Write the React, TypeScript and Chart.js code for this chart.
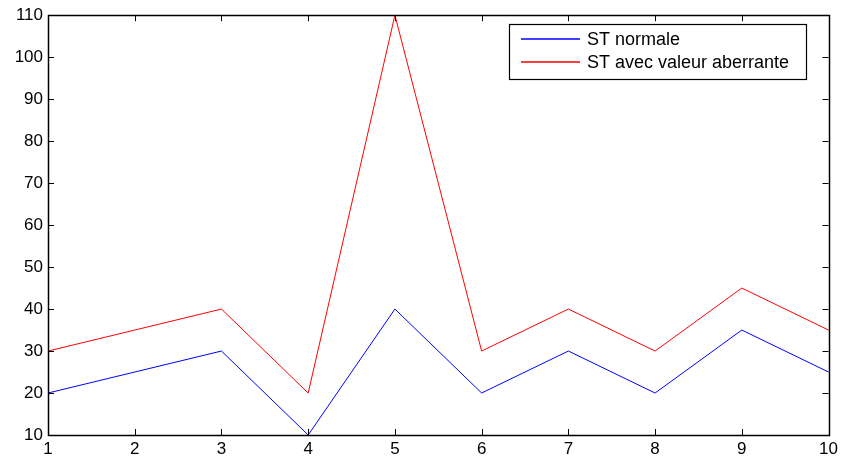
import React, { useEffect, useRef } from "react";
import { Chart, registerables } from "chart.js";

Chart.register(...registerables);

const categories = ["1", "2", "3", "4", "5", "6", "7", "8", "9", "10"];
const stNormale = [20, 25, 30, 10, 40, 20, 30, 20, 35, 25];
const stAberrante = [30, 35, 40, 20, 110, 30, 40, 30, 45, 35];
const yTicks = [10, 20, 30, 40, 50, 60, 70, 80, 90, 100, 110];
const seriesNames = ["ST normale", "ST avec valeur aberrante"];

const FONT = "'Liberation Sans', Arial, sans-serif";

const boxPlugin = {
  id: "matlabBox",
  afterDraw(chart: any) {
    const { ctx, chartArea } = chart;
    const { left, right, top, bottom } = chartArea;
    const xs = chart.scales.x;
    const ys = chart.scales.y;
    ctx.save();
    ctx.strokeStyle = "#000";
    ctx.lineWidth = 1;
    const L = 6;
    ctx.beginPath();
    for (let i = 0; i < categories.length; i++) {
      const px = Math.round(xs.getPixelForValue(i)) + 0.5;
      ctx.moveTo(px, bottom);
      ctx.lineTo(px, bottom - L);
      ctx.moveTo(px, top);
      ctx.lineTo(px, top + L);
    }
    for (const v of yTicks) {
      const py = Math.round(ys.getPixelForValue(v)) + 0.5;
      ctx.moveTo(left, py);
      ctx.lineTo(left + L, py);
      ctx.moveTo(right, py);
      ctx.lineTo(right - L, py);
    }
    ctx.stroke();
    ctx.lineWidth = 1.5;
    ctx.strokeRect(Math.round(left) + 0.5, Math.round(top) + 0.5, Math.round(right - left), Math.round(bottom - top));

    // legend
    const lx = 509, ly = 24, lw = 297, lh = 55;
    ctx.fillStyle = "#fff";
    ctx.fillRect(lx, ly, lw, lh);
    ctx.strokeStyle = "#000";
    ctx.lineWidth = 1.2;
    ctx.strokeRect(lx + 0.5, ly + 0.5, lw, lh);
    const colors = ["#0000ff", "#ff0000"];
    const rows = [39, 62];
    ctx.font = `18px ${FONT}`;
    ctx.textBaseline = "middle";
    ctx.textAlign = "left";
    for (let i = 0; i < 2; i++) {
      ctx.beginPath();
      ctx.strokeStyle = colors[i];
      ctx.lineWidth = 1.3;
      ctx.moveTo(521, rows[i]);
      ctx.lineTo(580, rows[i]);
      ctx.stroke();
      ctx.fillStyle = "#000";
      ctx.fillText(seriesNames[i], 587, rows[i] + 1);
    }
    ctx.restore();
  },
};

export default function App() {
  const ref = useRef<HTMLCanvasElement>(null);
  useEffect(() => {
    if (!ref.current) return;
    const chart = new Chart(ref.current, {
      type: "line",
      data: {
        labels: categories,
        datasets: [
          {
            label: seriesNames[0],
            data: stNormale,
            borderColor: "#0000ff",
            borderWidth: 1,
            pointRadius: 0,
            tension: 0,
          },
          {
            label: seriesNames[1],
            data: stAberrante,
            borderColor: "#ff0000",
            borderWidth: 1,
            pointRadius: 0,
            tension: 0,
          },
        ],
      },
      options: {
        responsive: false,
        animation: false,
        layout: { padding: { top: 14, right: 11, left: 0, bottom: 0 } },
        plugins: { legend: { display: false }, tooltip: { enabled: false } },
        scales: {
          x: {
            offset: false,
            grid: { display: false, drawTicks: false },
            border: { display: false },
            ticks: { color: "#000", font: { family: FONT, size: 17 }, padding: 4, maxRotation: 0, autoSkip: false },
            afterFit: (s: any) => { s.height = 24; },
          },
          y: {
            min: 10,
            max: 110,
            grid: { display: false, drawTicks: false },
            border: { display: false },
            afterBuildTicks: (s: any) => { s.ticks = yTicks.map((v) => ({ value: v })); },
            ticks: { color: "#000", font: { family: FONT, size: 17 }, padding: 5 },
            afterFit: (s: any) => { s.width = 48; },
          },
        },
      },
      plugins: [boxPlugin],
    });
    return () => chart.destroy();
  }, []);
  return (
    <div style={{ position: "fixed", left: 0, top: 0, width: 842, height: 459, background: "#fff" }}>
      <canvas ref={ref} width={842} height={459} />
    </div>
  );
}
